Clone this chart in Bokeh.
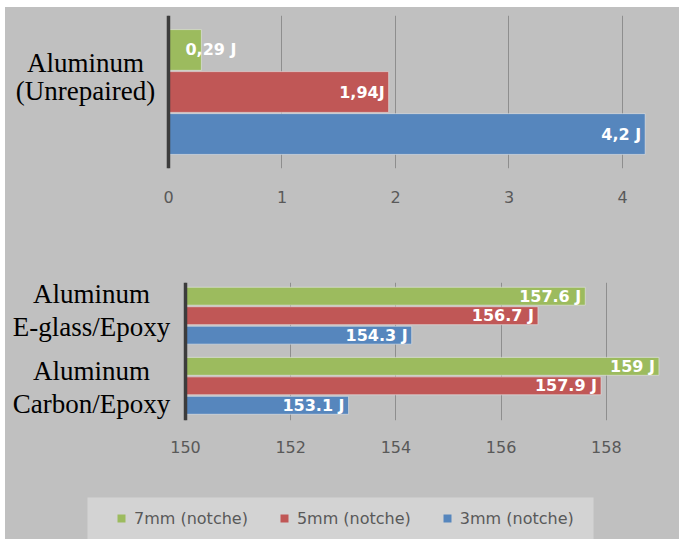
from bokeh.plotting import figure
from bokeh.models import Range1d, FixedTicker, Span, ColumnDataSource
from bokeh.core.properties import value
from bokeh.embed import file_html
from bokeh.resources import INLINE

# ---------------- data ----------------
series = ["7mm (notche)", "5mm (notche)", "3mm (notche)"]
colors = ["#9cbb5e", "#c05756", "#5686bd"]

top_category = "Aluminum\n(Unrepaired)"
top_values = [0.29, 1.94, 4.2]
top_labels = ["0,29 J", "1,94J", "4,2 J"]

bottom_categories = ["Aluminum\nE-glass/Epoxy", "Aluminum\nCarbon/Epoxy"]
bottom_values = {
    "7mm (notche)": [157.6, 159.0],
    "5mm (notche)": [156.7, 157.9],
    "3mm (notche)": [154.3, 153.1],
}
bottom_labels = {
    "7mm (notche)": ["157.6 J", "159 J"],
    "5mm (notche)": ["156.7 J", "157.9 J"],
    "3mm (notche)": ["154.3 J", "153.1 J"],
}
top_ticks = [0, 1, 2, 3, 4]
bottom_ticks = [150, 152, 154, 156, 158]

# ---------------- style ----------------
BG = "#c0c0c0"
GRID = "#8e8e8e"
AXIS = "#3c3c3c"
TICK_COLOR = "#595959"
TICK_FONT = "DejaVu Sans"
BAR_FONT = "DejaVu Sans"
CAT_FONT = "Liberation Serif"
W = 674


def style(p, ticks, standoff, base):
    p.background_fill_color = BG
    p.border_fill_color = BG
    p.outline_line_color = None
    p.xaxis.ticker = FixedTicker(ticks=ticks)
    p.xgrid.ticker = FixedTicker(ticks=ticks)
    p.xgrid.grid_line_color = GRID
    p.ygrid.grid_line_color = None
    p.xaxis.axis_line_color = None
    p.xaxis.major_tick_line_color = None
    p.xaxis.minor_tick_line_color = None
    p.xaxis.major_tick_out = 0
    p.xaxis.major_label_standoff = standoff
    p.xaxis.major_label_text_font = TICK_FONT
    p.xaxis.major_label_text_font_size = "16px"
    p.xaxis.major_label_text_color = TICK_COLOR
    p.yaxis.visible = False
    p.add_layout(Span(location=base, dimension="height", line_color=AXIS,
                      line_width=3.5))


# ---------------- top chart ----------------
p1 = figure(width=W, height=243, output_backend="svg", toolbar_location=None,
            x_range=Range1d(-1.436, 4.335), y_range=Range1d(-2.82, 0.82),
            min_border_left=0, min_border_right=19, min_border_top=8,
            min_border_bottom=82,
            styles={"background-color": BG, "margin-left": "5px",
                    "margin-top": "7px"})
style(p1, top_ticks, 22, 0)

for s, name in enumerate(series):
    v = top_values[s]
    src = ColumnDataSource(dict(y=[-s], right=[v], left=[0]))
    p1.hbar(y="y", left="left", right="right", height=0.97, source=src,
            fill_color=colors[s], line_color="#e6e6e6", line_alpha=0.6,
            line_width=1)
    right_aligned = v > 0.6
    p1.text(x=[v if right_aligned else 0], y=[-s], text=[top_labels[s]],
            text_align="right" if right_aligned else "left",
            x_offset=-4 if right_aligned else 17,
            text_baseline="middle", text_color="white",
            text_font=value(BAR_FONT), text_font_style="bold",
            text_font_size="16px")

p1.text(x=[0], y=[-(len(series) - 1) / 2], text=[top_category],
        x_offset=-83, y_offset=-15, text_align="center",
        text_baseline="middle", text_font=value(CAT_FONT),
        text_font_size="27px", text_color="black", text_line_height=0.95)

# ---------------- bottom chart ----------------
GROUP_STEP = 3.6
p2 = figure(width=W, height=240, output_backend="svg", toolbar_location=None,
            x_range=Range1d(146.578, 159.068), y_range=Range1d(-6.38, 0.705),
            min_border_left=0, min_border_right=17, min_border_top=32,
            min_border_bottom=70,
            styles={"background-color": BG, "margin-left": "5px"})
style(p2, bottom_ticks, 20, 150)

for s, name in enumerate(series):
    vals = bottom_values[name]
    ys = [-(g * GROUP_STEP + s) for g in range(len(bottom_categories))]
    src = ColumnDataSource(dict(y=ys, right=vals, left=[150] * len(vals),
                                lab=bottom_labels[name]))
    p2.hbar(y="y", left="left", right="right", height=0.92, source=src,
            fill_color=colors[s], line_color="#e6e6e6", line_alpha=0.6,
            line_width=1)
    p2.text(x="right", y="y", text="lab", source=src, text_align="right",
            x_offset=-4, text_baseline="middle", text_color="white",
            text_font=value(BAR_FONT), text_font_style="bold",
            text_font_size="16px")

cat_offsets = [-5, 2]
cat_src = ColumnDataSource(dict(
    x=[150] * len(bottom_categories),
    y=[-(g * GROUP_STEP + (len(series) - 1) / 2)
       for g in range(len(bottom_categories))],
    t=bottom_categories, yo=cat_offsets))
p2.text(x="x", y="y", text="t", source=cat_src, x_offset=-94, y_offset="yo",
        text_align="center", text_baseline="middle",
        text_font=value(CAT_FONT), text_font_size="27px",
        text_color="black", text_line_height=1.1)

# ---------------- legend strip ----------------
p3 = figure(width=W, height=49, output_backend="svg", toolbar_location=None,
            x_range=Range1d(0, 1), y_range=Range1d(0, 1),
            min_border_left=82, min_border_right=86, min_border_top=7,
            min_border_bottom=0,
            styles={"background-color": BG, "margin-left": "5px"})
p3.background_fill_color = "#d3d3d3"
p3.border_fill_color = BG
p3.outline_line_color = None
p3.axis.visible = False
p3.grid.visible = False
for s, name in enumerate(series):
    # zero-width placeholder bar: only its legend swatch is visible
    p3.hbar(y=[0], left=[0], right=[0], height=0, fill_color=colors[s],
            line_color=None, legend_label=name)
lg = p3.legend[0]
lg.orientation = "horizontal"
lg.location = (29, 11)
lg.background_fill_alpha = 0
lg.border_line_color = None
lg.padding = 0
lg.margin = 0
lg.spacing = 31
lg.glyph_width = 10
lg.glyph_height = 10
lg.label_standoff = 8
lg.label_height = 20
lg.label_text_font = TICK_FONT
lg.label_text_font_size = "16px"
lg.label_text_color = TICK_COLOR

open("out.html", "w").write(file_html([p1, p2, p3], INLINE))
